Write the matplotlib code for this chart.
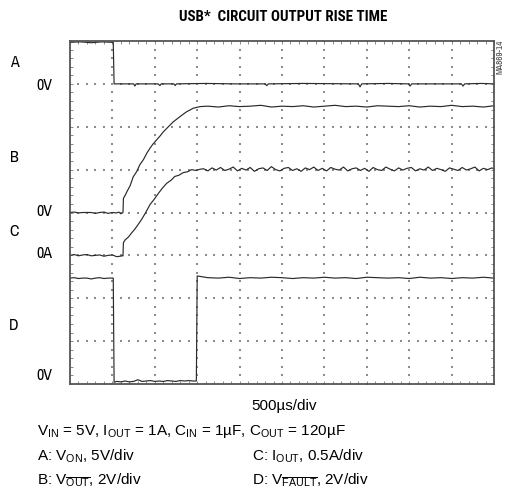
import matplotlib.pyplot as plt
import numpy as np

plt.rcParams["font.family"] = ["Archivo Narrow", "PT Sans Narrow", "DejaVu Sans"]
plt.rcParams["mathtext.fontset"] = "custom"
plt.rcParams["mathtext.rm"] = "Liberation Sans"
plt.rcParams["mathtext.it"] = "Liberation Sans"

# scope traces: time in divisions (500us/div), level in vertical divisions
a_time = [0.0, 0.25, 0.5, 0.75, 0.98, 1.02, 1.04, 1.06, 1.45, 1.5, 1.53, 1.56,
          2.08, 2.12, 2.15, 2.45, 2.48, 2.51, 3.2, 3.9, 4.6, 4.64, 4.68, 5.5,
          6.8, 6.84, 6.88, 7.5, 7.98, 8.02, 8.06, 8.7, 9.23, 9.27, 9.31, 9.7, 10.0]
a_level = [7.97, 7.98, 7.96, 7.98, 7.97, 7.97, 7.0, 7.0, 7.0, 7.0, 6.95, 7.0,
           7.0, 6.96, 7.0, 7.0, 6.96, 7.0, 7.01, 7.0, 7.0, 6.96, 7.0, 7.01,
           7.0, 6.93, 7.0, 7.01, 7.0, 6.95, 7.0, 7.0, 7.0, 6.95, 7.0, 7.01, 7.0]

b_time = [0.0, 0.1, 0.2, 0.3, 0.4, 0.5, 0.6, 0.7, 0.8, 0.9, 1.0, 1.1, 1.15, 1.2,
          1.25, 1.26, 1.3, 1.35, 1.42, 1.49, 1.57, 1.65, 1.73, 1.81, 1.88, 1.96,
          2.04, 2.12, 2.2, 2.28, 2.36, 2.43, 2.52, 2.6, 2.68, 2.75, 2.83, 2.9,
          2.98, 3.07,
          3.25, 3.5, 3.75, 4.0, 4.25, 4.5, 4.75, 5.0, 5.25, 5.5, 5.75, 6.0, 6.25,
          6.5, 6.75, 7.0, 7.25, 7.5, 7.75, 8.0, 8.25, 8.5, 8.75, 9.0, 9.25, 9.5,
          9.75, 10.0]
b_level = [4.0, 4.01, 3.99, 4.0, 4.0, 4.0, 3.98, 4.0, 4.01, 3.98, 4.0, 3.99, 4.01, 3.97,
           4.0, 4.33, 4.4, 4.5, 4.63, 4.83, 4.95, 5.12, 5.23, 5.38, 5.49, 5.6,
           5.69, 5.78, 5.88, 5.96, 6.04, 6.11, 6.18, 6.24, 6.3, 6.35, 6.39, 6.43,
           6.45, 6.47,
           6.48, 6.46, 6.49, 6.47, 6.48, 6.50, 6.46, 6.48, 6.47, 6.49, 6.46, 6.48, 6.50,
           6.47, 6.48, 6.46, 6.49, 6.48, 6.47, 6.49, 6.46, 6.48, 6.47, 6.50, 6.47, 6.48,
           6.46, 6.49]

c_time = [0.0, 0.1, 0.2, 0.3, 0.4, 0.5, 0.6, 0.7, 0.8, 0.9, 1.0, 1.1, 1.18, 1.24,
          1.25, 1.26, 1.3, 1.38, 1.45, 1.52, 1.6, 1.69, 1.78, 1.89, 1.98, 2.08,
          2.18, 2.28, 2.38, 2.47, 2.57, 2.67, 2.77, 2.87, 2.97, 3.07,
          3.15, 3.25, 3.35, 3.45, 3.55, 3.65, 3.75, 3.85, 3.95, 4.05,
          4.15, 4.25, 4.35, 4.45, 4.55, 4.65, 4.75, 4.85, 4.95, 5.05,
          5.15, 5.25, 5.35, 5.45, 5.55, 5.65, 5.75, 5.85, 5.95, 6.05,
          6.15, 6.25, 6.35, 6.45, 6.55, 6.65, 6.75, 6.85, 6.95, 7.05,
          7.15, 7.25, 7.35, 7.45, 7.55, 7.65, 7.75, 7.85, 7.95, 8.05,
          8.15, 8.25, 8.35, 8.45, 8.55, 8.65, 8.75, 8.85, 8.95, 9.05,
          9.15, 9.25, 9.35, 9.45, 9.55, 9.65, 9.75, 9.85, 9.95, 10.0]
c_level = [3.0, 3.02, 2.99, 3.01, 3.02, 2.99, 3.0, 3.01, 2.98, 3.0, 3.01, 2.97, 2.98, 2.99,
           2.99, 3.3, 3.36, 3.43, 3.52, 3.6, 3.71, 3.84, 3.99, 4.19, 4.3, 4.44,
           4.57, 4.68, 4.75, 4.84, 4.87, 4.93, 4.95, 5.0, 4.98, 5.01,
           5.02, 4.97, 5.04, 4.99, 5.05, 4.98, 5.01, 5.06, 4.97, 5.03,
           4.99, 5.05, 4.96, 5.02, 5.04, 4.98, 5.07, 5.0, 4.97, 5.03,
           5.05, 4.98, 5.02, 4.96, 5.04, 5.0, 5.06, 4.98, 5.03, 4.97,
           5.05, 5.01, 4.99, 5.06, 4.97, 5.02, 5.04, 4.98, 5.03, 4.96,
           5.05, 5.0, 4.98, 5.06, 5.01, 4.97, 5.04, 4.99, 5.03, 5.05,
           4.97, 5.02, 4.99, 5.06, 4.98, 5.03, 5.0, 4.96, 5.04, 5.01,
           4.98, 5.05, 4.99, 5.02, 5.06, 4.97, 5.03, 5.0, 5.04, 5.02]

d_time = [0.0, 0.1, 0.2, 0.3, 0.4, 0.5, 0.6, 0.7, 0.8, 0.9, 1.0, 1.02,
          1.04, 1.1, 1.2, 1.3, 1.4, 1.5, 1.6, 1.7, 1.8, 1.9, 2.0, 2.1, 2.2,
          2.3, 2.4, 2.5, 2.6, 2.7, 2.8, 2.9, 2.98,
          3.0, 3.25, 3.5, 3.75, 4.0, 4.25, 4.5, 4.75, 5.0, 5.25, 5.5, 5.75, 6.0,
          6.25, 6.5, 6.75, 7.0, 7.25, 7.5, 7.75, 8.0, 8.25, 8.5, 8.75, 9.0, 9.25,
          9.5, 9.75, 10.0]
d_level = [2.47, 2.48, 2.46, 2.47, 2.47, 2.45, 2.47, 2.48, 2.46, 2.47, 2.47, 2.47,
           0.04, 0.06, 0.05, 0.07, 0.05, 0.06, 0.1, 0.06, 0.07, 0.08, 0.06, 0.07,
           0.06, 0.08, 0.07, 0.06, 0.08, 0.07, 0.08, 0.07, 0.07,
           2.52, 2.48, 2.47, 2.49, 2.46, 2.48, 2.47, 2.49, 2.48, 2.46, 2.48, 2.47, 2.49,
           2.47, 2.48, 2.46, 2.49, 2.48, 2.47, 2.48, 2.46, 2.49, 2.47, 2.48, 2.46, 2.48,
           2.47, 2.49, 2.47]

W, H = 506, 495
fig = plt.figure(figsize=(W / 100, H / 100), dpi=100)
ax = fig.add_axes([70 / W, 1 - 384 / H, 424 / W, 343 / H])
ax.set_xlim(0, 10)
ax.set_ylim(0, 8)

# dotted graticule: dots at minor steps along each major line
minor = np.arange(0, 10.01, 0.2)
minor_y = np.arange(0, 8.01, 0.2)
for gx in range(1, 10):
    ax.scatter(np.full(len(minor_y), gx), minor_y, s=0.8, c="#8c8c8c", marker="s", linewidths=0)
for gy in range(1, 8):
    ax.scatter(minor, np.full(len(minor), gy), s=0.8, c="#8c8c8c", marker="s", linewidths=0)

for t, v in [(a_time, a_level), (b_time, b_level), (c_time, c_level), (d_time, d_level)]:
    ax.plot(t, v, color="#2a2a2a", lw=0.85, clip_on=False)

ax.set_xticks(range(0, 11))
ax.set_yticks(range(0, 9))
ax.set_xticks(minor, minor=True)
ax.set_yticks(minor_y, minor=True)
ax.tick_params(which="both", direction="in", top=True, right=True,
               labelbottom=False, labelleft=False, length=2.5, width=0.6, color="#777777")
for s in ax.spines.values():
    s.set_color("#555555")
    s.set_linewidth(1.3)


def px(x, y):
    return x / W, 1 - y / H


fig.text(*px(283, 17), "USB*  CIRCUIT OUTPUT RISE TIME", ha="center", va="center",
         fontsize=10.8, fontweight="bold",
         family=["Roboto Condensed", "PT Sans Narrow", "DejaVu Sans"])
fig.text(*px(500, 57), "MA869-14", rotation=90, ha="center", va="center",
         fontsize=6.5, color="#444444")

side_labels = [("A", 14, 63), ("0V", 44, 86), ("B", 14, 158), ("0V", 44, 211),
               ("C", 14, 232), ("0A", 44, 254), ("D", 14, 325), ("0V", 44, 375)]
for txt, x, y in side_labels:
    fig.text(*px(x, y), txt, ha="center", va="center", fontsize=11.5)

body = dict(va="center", fontsize=11, family=["Liberation Sans", "DejaVu Sans"])
fig.text(*px(284, 406), "500µs/div", ha="center", **body)
fig.text(*px(37, 431),
         r"V$_{\mathrm{IN}}$ = 5V, I$_{\mathrm{OUT}}$ = 1A, C$_{\mathrm{IN}}$ = 1µF, "
         r"C$_{\mathrm{OUT}}$ = 120µF", ha="left", **body)
fig.text(*px(37, 456), r"A: V$_{\mathrm{ON}}$, 5V/div", ha="left", **body)
fig.text(*px(37, 480), r"B: V$_{\overline{\mathrm{OUT}}}$, 2V/div", ha="left", **body)
fig.text(*px(252, 456), r"C: I$_{\mathrm{OUT}}$, 0.5A/div", ha="left", **body)
fig.text(*px(252, 480), r"D: V$_{\overline{\mathrm{FAULT}}}$, 2V/div", ha="left", **body)

fig.savefig("out.png", dpi=100)
